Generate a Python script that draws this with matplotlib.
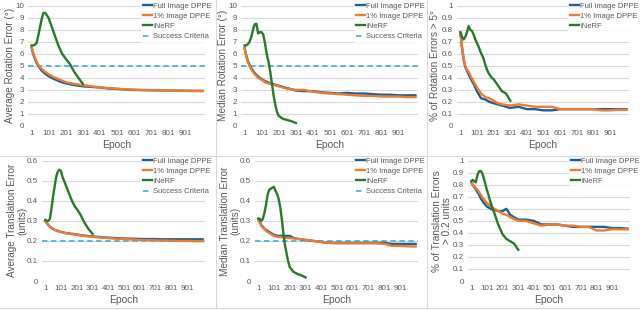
import matplotlib
matplotlib.use("Agg")
import matplotlib.pyplot as plt
from matplotlib.lines import Line2D
from matplotlib.ticker import FuncFormatter

plt.rcParams['font.family'] = ['Liberation Sans', 'DejaVu Sans']

# ---------------- data ----------------
dppe_epochs = [1, 10, 20, 30, 40, 50, 60, 80, 100, 125, 150, 175, 200, 225, 250, 300,
               350, 400, 450, 500, 550, 600, 650, 700, 750, 800, 850, 900, 950, 1000]
inerf_epochs = [1, 10, 20, 30, 40, 50, 60, 70, 80, 90, 100, 110, 120, 130, 140, 150,
                160, 170, 180, 190, 200, 225, 250, 275, 301]

# Average rotation error
avg_rot_full = [6.5, 6.0, 5.6, 5.25, 5.0, 4.8, 4.6, 4.35, 4.15, 3.95, 3.8, 3.65, 3.55, 3.47, 3.4, 3.3,
                3.25, 3.2, 3.12, 3.08, 3.03, 3.0, 2.98, 2.97, 2.96, 2.95, 2.94, 2.93, 2.92, 2.92]
avg_rot_1pct = [6.6, 6.1, 5.7, 5.35, 5.1, 4.9, 4.75, 4.5, 4.3, 4.1, 3.95, 3.8, 3.65, 3.57, 3.5, 3.4,
                3.3, 3.22, 3.15, 3.1, 3.05, 3.02, 3.0, 2.98, 2.96, 2.95, 2.93, 2.92, 2.91, 2.9]
avg_rot_inerf = [6.7, 6.7, 6.75, 6.9, 7.5, 8.2, 8.9, 9.4, 9.4, 9.2, 9.0, 8.6, 8.2, 7.8, 7.4, 7.0,
                 6.6, 6.3, 6.0, 5.8, 5.6, 5.15, 4.5, 4.0, 3.5]

# Median rotation error
med_rot_full = [6.5, 5.9, 5.4, 5.1, 4.8, 4.6, 4.4, 4.1, 3.9, 3.7, 3.55, 3.45, 3.35, 3.25, 3.15, 2.95,
                2.9, 2.9, 2.8, 2.75, 2.7, 2.75, 2.7, 2.7, 2.65, 2.6, 2.6, 2.55, 2.55, 2.55]
med_rot_1pct = [6.5, 5.8, 5.3, 5.0, 4.7, 4.5, 4.3, 4.0, 3.85, 3.6, 3.5, 3.4, 3.3, 3.2, 3.1, 3.0,
                3.0, 2.85, 2.75, 2.7, 2.65, 2.6, 2.55, 2.5, 2.5, 2.45, 2.45, 2.45, 2.4, 2.4]
med_rot_inerf = [6.7, 6.7, 6.8, 7.0, 7.4, 8.0, 8.45, 8.5, 7.7, 7.8, 7.8, 7.6, 6.9, 6.0, 5.4, 4.6,
                 3.6, 2.6, 1.8, 1.2, 0.85, 0.6, 0.5, 0.4, 0.25]

# % of rotation errors > 5 deg
pct_rot_full = [0.77, 0.65, 0.55, 0.49, 0.46, 0.43, 0.40, 0.35, 0.29, 0.23, 0.22, 0.20, 0.19, 0.18, 0.17, 0.15,
                0.16, 0.14, 0.14, 0.13, 0.13, 0.14, 0.14, 0.14, 0.14, 0.14, 0.14, 0.14, 0.14, 0.14]
pct_rot_1pct = [0.77, 0.66, 0.56, 0.50, 0.47, 0.45, 0.42, 0.37, 0.32, 0.27, 0.24, 0.23, 0.21, 0.19, 0.18, 0.17,
                0.18, 0.17, 0.16, 0.16, 0.16, 0.14, 0.14, 0.14, 0.14, 0.14, 0.13, 0.13, 0.135, 0.135]
pct_rot_inerf = [0.78, 0.74, 0.72, 0.74, 0.78, 0.83, 0.80, 0.79, 0.76, 0.72, 0.69, 0.66, 0.62, 0.59, 0.56, 0.51,
                 0.47, 0.44, 0.42, 0.40, 0.39, 0.34, 0.29, 0.27, 0.21]

# Average translation error
avg_tr_full = [0.30, 0.29, 0.28, 0.27, 0.265, 0.26, 0.255, 0.25, 0.245, 0.24, 0.237, 0.235, 0.232, 0.229, 0.226, 0.222,
               0.219, 0.216, 0.214, 0.212, 0.211, 0.21, 0.209, 0.209, 0.208, 0.208, 0.208, 0.208, 0.208, 0.208]
avg_tr_1pct = [0.30, 0.289, 0.278, 0.27, 0.264, 0.259, 0.255, 0.249, 0.244, 0.24, 0.236, 0.233, 0.23, 0.227, 0.225, 0.22,
               0.217, 0.214, 0.211, 0.209, 0.207, 0.205, 0.204, 0.203, 0.202, 0.201, 0.2, 0.2, 0.199, 0.199]
avg_tr_inerf = [0.305, 0.30, 0.30, 0.31, 0.36, 0.42, 0.47, 0.52, 0.545, 0.555, 0.55, 0.52, 0.50, 0.48, 0.46, 0.44,
                0.42, 0.40, 0.385, 0.37, 0.36, 0.33, 0.29, 0.26, 0.235]

# Median translation error
med_tr_full = [0.31, 0.295, 0.28, 0.27, 0.26, 0.255, 0.25, 0.24, 0.23, 0.225, 0.225, 0.225, 0.225, 0.215, 0.21, 0.205,
               0.2, 0.195, 0.19, 0.19, 0.19, 0.19, 0.19, 0.19, 0.19, 0.19, 0.185, 0.185, 0.185, 0.185]
med_tr_1pct = [0.31, 0.29, 0.275, 0.265, 0.26, 0.25, 0.245, 0.235, 0.225, 0.22, 0.218, 0.215, 0.215, 0.212, 0.21, 0.205,
               0.2, 0.195, 0.19, 0.188, 0.188, 0.188, 0.188, 0.188, 0.188, 0.185, 0.175, 0.175, 0.173, 0.172]
med_tr_inerf = [0.31, 0.31, 0.30, 0.31, 0.34, 0.38, 0.43, 0.455, 0.46, 0.465, 0.47, 0.45, 0.435, 0.41, 0.37, 0.31,
                0.24, 0.18, 0.14, 0.10, 0.07, 0.045, 0.035, 0.028, 0.018]

# % of translation errors > 0.2 units
pct_tr_full = [0.82, 0.80, 0.78, 0.76, 0.74, 0.72, 0.69, 0.65, 0.62, 0.60, 0.59, 0.58, 0.58, 0.60, 0.55, 0.51,
               0.51, 0.50, 0.47, 0.47, 0.47, 0.46, 0.45, 0.45, 0.45, 0.45, 0.45, 0.44, 0.44, 0.435]
pct_tr_1pct = [0.82, 0.80, 0.79, 0.77, 0.76, 0.74, 0.72, 0.68, 0.65, 0.62, 0.60, 0.58, 0.56, 0.55, 0.53, 0.50,
               0.50, 0.48, 0.46, 0.47, 0.47, 0.46, 0.46, 0.45, 0.45, 0.42, 0.42, 0.43, 0.43, 0.43]
pct_tr_inerf = [0.83, 0.84, 0.83, 0.82, 0.88, 0.91, 0.915, 0.90, 0.86, 0.81, 0.76, 0.72, 0.67, 0.63, 0.59, 0.56,
                0.52, 0.48, 0.45, 0.42, 0.39, 0.35, 0.33, 0.31, 0.26]

x_ticks = [1, 101, 201, 301, 401, 501, 601, 701, 801, 901]
series_names = ["Full Image DPPE", "1% Image DPPE", "iNeRF", "Success Criteria"]

panels = [
    dict(ylabel="Average Rotation Error (°)", full=avg_rot_full, pct=avg_rot_1pct, inerf=avg_rot_inerf,
         ymax=10, step=1, crit=5, box=(28, 205, 5.7, 126), ylx=10, leg=(141, 0)),
    dict(ylabel="Median Rotation Error (°)", full=med_rot_full, pct=med_rot_1pct, inerf=med_rot_inerf,
         ymax=10, step=1, crit=5, box=(241, 418, 5.7, 126), ylx=223, leg=(354, 0)),
    dict(ylabel="% of Rotation Errors > 5°", full=pct_rot_full, pct=pct_rot_1pct, inerf=pct_rot_inerf,
         ymax=1, step=0.1, crit=None, box=(457, 629, 5.7, 126), ylx=435, leg=(568, 0)),
    dict(ylabel="Average Translation Error\n(units)", full=avg_tr_full, pct=avg_tr_1pct, inerf=avg_tr_inerf,
         ymax=0.6, step=0.1, crit=0.2, box=(42, 205, 160.7, 281), ylx=17, leg=(141, 155)),
    dict(ylabel="Median Translation Error\n(units)", full=med_tr_full, pct=med_tr_1pct, inerf=med_tr_inerf,
         ymax=0.6, step=0.1, crit=0.2, box=(255, 418, 160.7, 281), ylx=230, leg=(354, 155)),
    dict(ylabel="% of Translation Errors\n> 0.2 units", full=pct_tr_full, pct=pct_tr_1pct, inerf=pct_tr_inerf,
         ymax=1, step=0.1, crit=None, box=(468, 630, 160.7, 281), ylx=442, leg=(569, 155)),
]

C_BLUE = "#1F5F99"
C_ORANGE = "#EE7B30"
C_GREEN = "#277A2A"
C_CRIT = "#45B5E3"
C_TEXT = "#595959"
C_GRID = "#D9D9D9"

W, H = 640, 310
fig = plt.figure(figsize=(W / 100, H / 100), dpi=100)


def fmt(v, _):
    s = f"{v:.1f}".rstrip("0").rstrip(".")
    return s


for p in panels:
    l, r, t, b = p["box"]
    ax = fig.add_axes([l / W, 1 - b / H, (r - l) / W, (b - t) / H])
    ax.set_xlim(-20, 1015)
    ax.set_ylim(0, p["ymax"])
    n = int(round(p["ymax"] / p["step"]))
    yt = [i * p["step"] for i in range(n + 1)]
    ax.set_yticks(yt)
    ax.yaxis.set_major_formatter(FuncFormatter(fmt))
    ax.set_xticks(x_ticks)
    ax.tick_params(length=0, labelsize=5.8, colors=C_TEXT, pad=3)
    for s in ax.spines.values():
        s.set_visible(False)
    ax.grid(axis="y", color=C_GRID, linewidth=0.8)
    ax.set_axisbelow(True)

    h1, = ax.plot(dppe_epochs, p["full"], color=C_BLUE, lw=1.7, label=series_names[0], zorder=3)
    h2, = ax.plot(dppe_epochs, p["pct"], color=C_ORANGE, lw=1.7, label=series_names[1], zorder=3.1)
    h3, = ax.plot(inerf_epochs, p["inerf"], color=C_GREEN, lw=1.7, label=series_names[2], zorder=3.2)
    handles = [h1, h2, h3]
    if p["crit"] is not None:
        h4 = ax.axhline(p["crit"], color=C_CRIT, lw=1.3, ls=(0, (3, 2)), label=series_names[3], zorder=2.5)
        handles.append(h4)

    lx, ly = p["leg"]
    leg = ax.legend(handles=handles, loc="upper left",
                    bbox_to_anchor=(lx / W, 1 - ly / H), bbox_transform=fig.transFigure,
                    fontsize=5.5, frameon=True, fancybox=False, borderpad=0.3,
                    handlelength=1.1, handletextpad=0.2, labelspacing=0.38,
                    borderaxespad=0)
    leg.get_frame().set_facecolor("white")
    leg.get_frame().set_edgecolor("none")
    leg.set_zorder(5)
    for txt in leg.get_texts():
        txt.set_color(C_TEXT)

    # y label
    yc = 1 - ((t + b) / 2) / H
    fig.text(p["ylx"] / W, yc, p["ylabel"], rotation=90, ha="center", va="center",
             fontsize=7.2, color=C_TEXT, linespacing=1.05)
    # x label
    fig.text(((l + r) / 2) / W, 1 - (b + 19) / H, "Epoch", ha="center", va="center",
             fontsize=7.4, color=C_TEXT)

# separator lines
for xv in (216, 427):
    fig.add_artist(Line2D([xv / W, xv / W], [1 - 308 / H, 1], transform=fig.transFigure,
                          color=C_GRID, lw=0.8))
for yv in (156, 308):
    fig.add_artist(Line2D([0, 1], [1 - yv / H, 1 - yv / H], transform=fig.transFigure,
                          color=C_GRID, lw=0.8))

fig.savefig("out.png", dpi=100)
